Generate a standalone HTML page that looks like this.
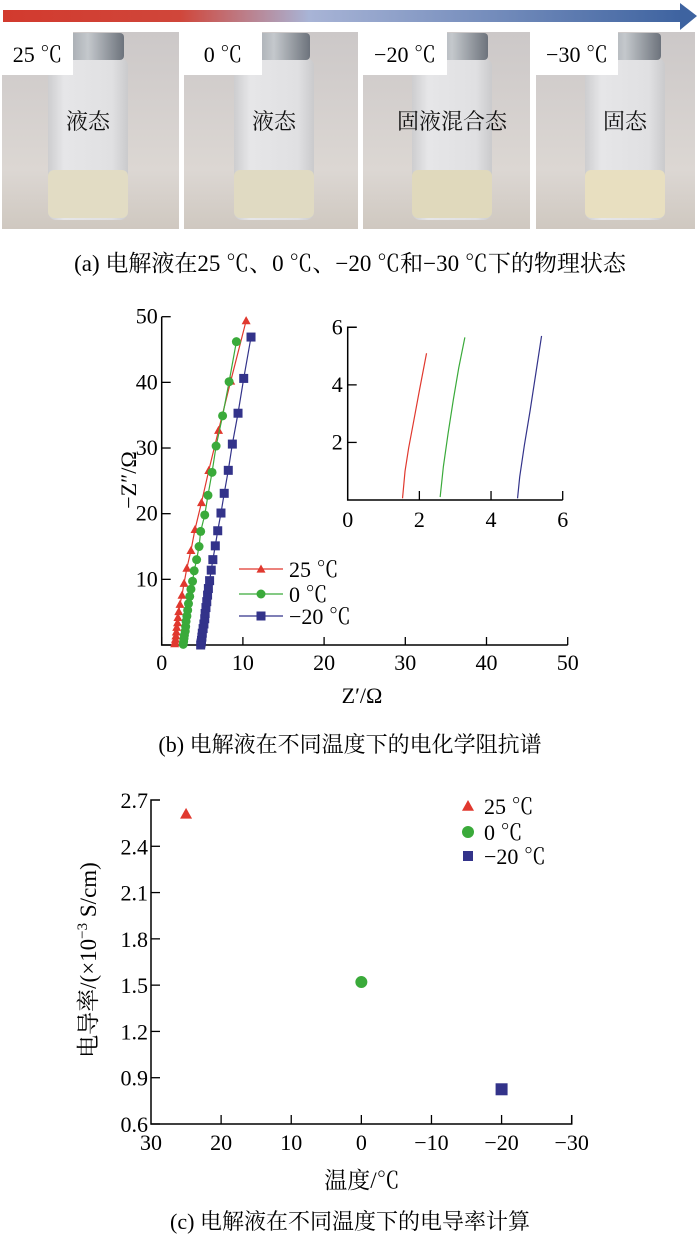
<!DOCTYPE html>
<html><head><meta charset="utf-8">
<style>
html,body{margin:0;padding:0;background:#fff;}
svg{display:block;font-family:"Liberation Serif","Noto Serif CJK SC",serif;}
</style></head>
<body>
<svg id="fig" width="700" height="1238" viewBox="0 0 700 1238">
<defs>
<linearGradient id="arrowGrad" x1="0" x2="1" y1="0" y2="0">
<stop offset="0" stop-color="#d23a2e"/><stop offset="0.26" stop-color="#d0463a"/>
<stop offset="0.45" stop-color="#a8b4d6"/><stop offset="1" stop-color="#3e63a0"/>
</linearGradient>
<linearGradient id="bg" x1="0" x2="0" y1="0" y2="1">
<stop offset="0" stop-color="#ccc8c8"/><stop offset="0.7" stop-color="#dcd7d3"/><stop offset="1" stop-color="#cfc8c0"/>
</linearGradient>
<linearGradient id="glass" x1="0" x2="1" y1="0" y2="0">
<stop offset="0" stop-color="#cdcdcf"/><stop offset="0.2" stop-color="#e6e6e8"/><stop offset="0.8" stop-color="#e0e0e2"/><stop offset="1" stop-color="#cacacc"/>
</linearGradient>
<linearGradient id="cap" x1="0" x2="1" y1="0" y2="0">
<stop offset="0" stop-color="#8a9098"/><stop offset="0.5" stop-color="#c4c8cc"/><stop offset="1" stop-color="#6d737c"/>
</linearGradient>
</defs>

<g>
<rect x="3" y="10" width="680" height="12" fill="url(#arrowGrad)"/>
<polygon points="680,3 697,16 680,30" fill="#3e63a0"/>
</g>

<g id="photos"></g>

<text x="350" y="271" font-size="23" text-anchor="middle">(a) 电解液在25 ℃、0 ℃、−20 ℃和−30 ℃下的物理状态</text>

<g id="chartB"></g>
<text x="350" y="752" font-size="22" text-anchor="middle">(b) 电解液在不同温度下的电化学阻抗谱</text>

<g id="chartC"></g>
<text x="350" y="1229" font-size="22" text-anchor="middle">(c) 电解液在不同温度下的电导率计算</text>
</svg>
<script>
const NS="http://www.w3.org/2000/svg";
function mk(parent,tag,attrs,text){const e=document.createElementNS(NS,tag);for(const k in attrs)e.setAttribute(k,attrs[k]);if(text!==undefined)e.textContent=text;parent.appendChild(e);return e;}

// ---------- photos ----------
const photoLabels=["25 ℃","0 ℃","−20 ℃","−30 ℃"];
const photoStates=["液态","液态","固液混合态","固态"];
const photoX0=[2,184,363,536], photoX1=[179,358,530,695];
const bottleC=[88,274,452,625];
const labelW=[71,78,84,82];
const liquidColor=["#e2dcc4","#e0dac2","#e0d9bc","#e8dfc0"];
const pg=document.getElementById('photos');
for(let i=0;i<4;i++){
 const g=mk(pg,'g',{});
 
 
 mk(g,'rect',{x:photoX0[i],y:32,width:photoX1[i]-photoX0[i],height:197,fill:'url(#bg)'});
 const c=bottleC[i];
 mk(g,'rect',{x:c-40,y:58,width:80,height:162,rx:8,fill:'url(#glass)'});
 mk(g,'rect',{x:c-40,y:170,width:80,height:48,rx:6,fill:liquidColor[i]});
 mk(g,'rect',{x:c-36,y:33,width:72,height:27,rx:4,fill:'url(#cap)'});
 mk(g,'rect',{x:photoX0[i],y:32,width:labelW[i],height:43,fill:'#ffffff'});
 const t=mk(g,'text',{x:photoX0[i]+labelW[i]/2,y:62,'font-size':22,'text-anchor':'middle'},photoLabels[i]);
 
 
 const s=mk(g,'text',{x:c,y:129,'font-size':22,'text-anchor':'middle',fill:'#111'},photoStates[i]);
 
 
}

// ---------- chart b data ----------
const b25x=[1.6,1.65,1.7,1.75,1.8,1.85,1.95,2.0,2.1,2.25,2.5,2.75,3.1,3.6,4.1,4.9,5.8,7.0,8.5,10.4];
const b25y=[0.2,0.5,0.9,1.4,2.0,2.7,3.4,4.2,5.1,6.2,7.6,9.4,11.7,14.4,17.6,21.7,26.6,32.7,40.2,49.4];
const b0x=[2.65,2.7,2.75,2.8,2.9,2.95,3.0,3.1,3.2,3.3,3.45,3.6,3.8,4.0,4.3,4.6,4.8,5.3,5.7,6.2,6.7,7.5,8.3,9.2];
const b0y=[0.1,0.5,1.0,1.5,2.1,2.8,3.6,4.4,5.3,6.3,7.4,8.5,9.7,11.3,13.0,15.0,17.3,19.8,22.8,26.3,30.3,34.9,40.1,46.2];
const bm20x=[4.8,4.85,4.9,4.95,5.0,5.1,5.2,5.3,5.35,5.45,5.55,5.65,5.75,5.9,6.1,6.3,6.6,6.9,7.3,7.7,8.2,8.7,9.4,10.1,11.0];
const bm20y=[0.0,0.3,0.7,1.2,1.8,2.5,3.2,4.0,4.8,5.7,6.6,7.6,8.6,9.8,11.4,13.0,15.1,17.4,20.1,23.1,26.6,30.6,35.3,40.6,46.9];
const bTicks=[0,10,20,30,40,50];
const in25x=[1.53,1.6,1.7,1.83,2.0,2.2];
const in25y=[0.06,1.0,1.8,2.66,3.8,5.1];
const in0x=[2.58,2.67,2.8,2.95,3.1,3.27];
const in0y=[0.1,1.16,2.3,3.5,4.6,5.65];
const inm20x=[4.74,4.8,4.93,5.09,5.25,5.41];
const inm20y=[0.06,0.8,1.9,3.1,4.4,5.7];
const inXTicks=[0,2,4,6];
const inYTicks=[2,4,6];
const seriesNames=["25 ℃","0 ℃","−20 ℃"];
const seriesColors=["#e0382e","#3aaa3a","#33338a"];

const B=document.getElementById('chartB');
const bx=v=>161.7+v*(567.7-161.7)/50, by=v=>645-v*(645-316.7)/50;
const bAx=mk(B,'path',{d:`M${bx(0)},${by(50)} V${by(0)} H${bx(50)}`,stroke:'#000','stroke-width':1.5,fill:'none'});


bTicks.forEach(t=>{
 mk(B,'line',{x1:bx(t),x2:bx(t),y1:by(0),y2:by(0)-8,stroke:'#000','stroke-width':1.3});
 mk(B,'line',{x1:bx(0),x2:bx(0)+9,y1:by(t),y2:by(t),stroke:'#000','stroke-width':1.3});
 const xl=mk(B,'text',{x:bx(t),y:by(0)+25,'font-size':22,'text-anchor':'middle'},String(t));
 
 
 if(t>0){const yl=mk(B,'text',{x:bx(0)-4,y:by(t)+7,'font-size':22,'text-anchor':'end'},String(t));
 
 }
});
function marker(g,type,x,y,col,s){
 if(type===0) return mk(g,'polygon',{points:`${x},${y-s} ${x-s},${y+s*0.8} ${x+s},${y+s*0.8}`,fill:col});
 if(type===1) return mk(g,'circle',{cx:x,cy:y,r:s,fill:col});
 return mk(g,'rect',{x:x-s,y:y-s,width:2*s,height:2*s,fill:col});
}
const bSeries=[[b25x,b25y],[b0x,b0y],[bm20x,bm20y]];
bSeries.forEach((s,i)=>{
 const g=mk(B,'g',{});
 
 
 mk(g,'polyline',{points:s[0].map((x,k)=>bx(x)+','+by(s[1][k])).join(' '),fill:'none',stroke:seriesColors[i],'stroke-width':1.2});
 s[0].forEach((x,k)=>{const m=marker(g,i,bx(x),by(s[1][k]),seriesColors[i],4.5);
 
 });
});
const legY=[569,594,616];
seriesNames.forEach((n,i)=>{
 const g=mk(B,'g',{});
 
 
 mk(g,'line',{x1:239,x2:283,y1:legY[i],y2:legY[i],stroke:seriesColors[i],'stroke-width':1.2});
 marker(g,i,261,legY[i],seriesColors[i],4.5);
 mk(g,'text',{x:289,y:legY[i]+8,'font-size':22},n);
});
const ybt=mk(B,'text',{transform:'translate(136,480) rotate(-90)','font-size':22,'text-anchor':'middle'},'−Z″/Ω');


const xbt=mk(B,'text',{x:362,y:703,'font-size':22,'text-anchor':'middle'},"Z′/Ω");


// inset
const ix=v=>347.7+v*(562.7-347.7)/6, iy=v=>500-v*(500-327.3)/6;
const ig=mk(B,'g',{});


mk(ig,'path',{d:`M${ix(0)+9},${iy(6)} H${ix(0)} V${iy(0)} H${ix(6)}`,stroke:'#000','stroke-width':1.5,fill:'none'});
inXTicks.forEach(t=>{
 if(t>0) mk(ig,'line',{x1:ix(t),x2:ix(t),y1:iy(0),y2:iy(0)-9,stroke:'#000','stroke-width':1.3});
 mk(ig,'text',{x:ix(t),y:iy(0)+27,'font-size':22,'text-anchor':'middle'},String(t));
});
inYTicks.forEach(t=>{
 mk(ig,'line',{x1:ix(0),x2:ix(0)+9,y1:iy(t),y2:iy(t),stroke:'#000','stroke-width':1.3});
 mk(ig,'text',{x:ix(0)-5,y:iy(t)+7,'font-size':22,'text-anchor':'end'},String(t));
});
[[in25x,in25y],[in0x,in0y],[inm20x,inm20y]].forEach((s,i)=>{
 const l=mk(ig,'polyline',{points:s[0].map((x,k)=>ix(x)+','+iy(s[1][k])).join(' '),fill:'none',stroke:seriesColors[i],'stroke-width':1.2});
 
 
});

// ---------- chart c ----------
const cTemps=[25,0,-20];
const cCond=[2.61,1.52,0.825];
const cXTicks=[30,20,10,0,-10,-20,-30];
const cYTicks=["0.6","0.9","1.2","1.5","1.8","2.1","2.4","2.7"];
const C=document.getElementById('chartC');
const cx=v=>151+(30-v)*(571.7-151)/60, cy=v=>1124-(v-0.6)*(1124-800)/2.1;
const cAx=mk(C,'path',{d:`M${cx(30)+9},${cy(2.7)} H${cx(30)} V${cy(0.6)} H${cx(-30)} v-9`,stroke:'#000','stroke-width':1.5,fill:'none'});


cXTicks.forEach(t=>{
 if(t!==30) mk(C,'line',{x1:cx(t),x2:cx(t),y1:cy(0.6),y2:cy(0.6)-9,stroke:'#000','stroke-width':1.3});
 const l=mk(C,'text',{x:cx(t),y:cy(0.6)+26,'font-size':22,'text-anchor':'middle'},t<0?'−'+(-t):String(t));
 
 
});
cYTicks.forEach(t=>{
 const v=parseFloat(t);
 if(v<2.7) mk(C,'line',{x1:cx(30),x2:cx(30)+9,y1:cy(v),y2:cy(v),stroke:'#000','stroke-width':1.3});
 const l=mk(C,'text',{x:cx(30)-3,y:cy(v)+8,'font-size':22,'text-anchor':'end'},t);
 
 
});
cTemps.forEach((t,i)=>{
 const m=marker(C,i,cx(t),cy(cCond[i]),seriesColors[i],6);
 
 
});
const cLegY=[806,832,856];
seriesNames.forEach((n,i)=>{
 const g=mk(C,'g',{});
 
 
 marker(g,i,468,cLegY[i],seriesColors[i],i===2?5:6);
 mk(g,'text',{x:484,y:cLegY[i]+8,'font-size':22},n);
});
const yct=mk(C,'text',{transform:'translate(96,960) rotate(-90)','font-size':23,'text-anchor':'middle'});


mk(yct,'tspan',{},'电导率/(×10');
mk(yct,'tspan',{dy:-9,'font-size':15},'−3');
mk(yct,'tspan',{dy:9},' S/cm)');
const xct=mk(C,'text',{x:362,y:1188,'font-size':23,'text-anchor':'middle'},'温度/℃');


</script>
</body></html>
